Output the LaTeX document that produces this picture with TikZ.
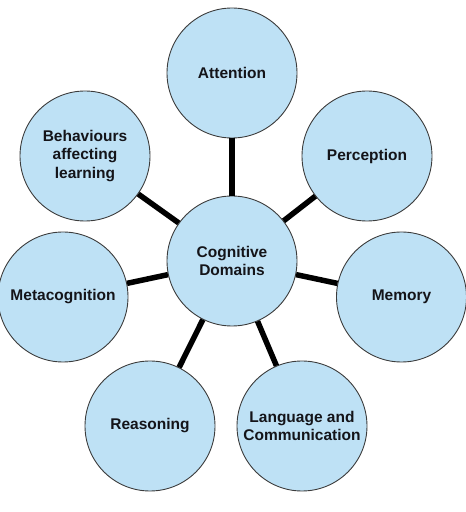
\documentclass[tikz,border=0pt]{standalone}
\usepackage{fontspec}
\setmainfont{Liberation Sans}
\definecolor{cdblue}{RGB}{190,225,245}
\definecolor{cdedge}{RGB}{60,60,60}
\definecolor{cdtext}{RGB}{20,20,25}
\usetikzlibrary{positioning}

\begin{document}
\begin{tikzpicture}[x=1pt, y=1pt,
  cogbubble/.style={
    circle, minimum size=130pt, inner sep=0pt,
    draw=cdedge, line width=0.9pt,
    fill=cdblue,
    font=\fontsize{15.5}{18.5}\selectfont\bfseries,
    align=center,
    text=cdtext
  },
  link/.style={line width=5.5pt, draw=black}
]
\useasboundingbox (0,0) rectangle (466,512);

\node[cogbubble] (core)  at (232,251)   {Cognitive\\Domains};
\node[cogbubble] (att)   at (232,439)   {Attention};
\node[cogbubble] (perc)  at (367,356)   {Perception};
\node[cogbubble] (mem)   at (401.5,215) {Memory};
\node[cogbubble] (lang)  at (302,86)    {Language and\\Communication};
\node[cogbubble] (reas)  at (150,86)    {Reasoning};
\node[cogbubble] (meta)  at (63,215)    {Metacognition};
\node[cogbubble] (behav) at (85,356)    {Behaviours\\affecting\\learning};

\draw[link] (core) -- (att);
\draw[link] (core) -- (perc);
\draw[link] (core) -- (mem);
\draw[link] (core) -- (lang);
\draw[link] (core) -- (reas);
\draw[link] (core) -- (meta);
\draw[link] (core) -- (behav);
\end{tikzpicture}
\end{document}
